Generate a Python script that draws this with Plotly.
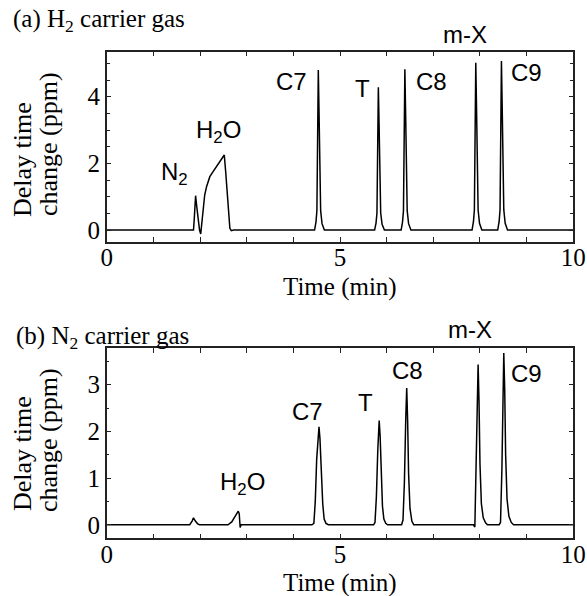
import plotly.graph_objects as go

# ---------------- data ----------------
# (a) H2 carrier gas : time (min) and delay time change (ppm)
time_a = [0.00, 1.86, 1.875, 1.905, 1.93, 1.96, 1.99, 2.015, 2.035, 2.07, 2.10, 2.14, 2.21,
          2.28, 2.36, 2.43, 2.48, 2.52, 2.55, 2.58, 2.61, 2.64, 2.67, 2.72,
          4.455, 4.485, 4.505, 4.52, 4.535, 4.55, 4.565, 4.585, 4.615, 4.665,
          5.742, 5.772, 5.792, 5.807, 5.822, 5.837, 5.852, 5.872, 5.902, 5.952,
          6.31, 6.34, 6.36, 6.375, 6.39, 6.405, 6.42, 6.44, 6.47, 6.52,
          7.83, 7.86, 7.88, 7.895, 7.91, 7.925, 7.94, 7.96, 7.99, 8.04,
          8.38, 8.41, 8.43, 8.445, 8.46, 8.475, 8.49, 8.51, 8.54, 8.59,
          10.0]
delay_a = [0.00, 0.00, 0.30, 1.03, 0.70, 0.30, 0.00, -0.12, 0.15, 0.70, 1.05, 1.30, 1.60,
           1.75, 1.92, 2.07, 2.18, 2.25, 1.75, 1.10, 0.50, 0.05, -0.02, 0.00,
           0.00, 0.24, 0.58, 2.64, 4.80, 3.60, 1.68, 0.58, 0.19, 0.00,
           0.00, 0.21, 0.51, 2.35, 4.28, 3.21, 1.50, 0.51, 0.17, 0.00,
           0.00, 0.24, 0.58, 2.65, 4.82, 3.62, 1.69, 0.58, 0.19, 0.00,
           0.00, 0.25, 0.60, 2.76, 5.02, 3.77, 1.76, 0.60, 0.20, 0.00,
           0.00, 0.25, 0.61, 2.79, 5.07, 3.80, 1.77, 0.61, 0.20, 0.00,
           0.00]

# (b) N2 carrier gas
time_b = [0.00, 1.78, 1.83, 1.86, 1.90, 1.95, 1.99,
          2.60, 2.68, 2.74, 2.79, 2.82, 2.84, 2.86, 2.88,
          4.40, 4.44, 4.47, 4.50, 4.53, 4.55, 4.57, 4.60, 4.63, 4.66, 4.70, 4.75,
          5.72, 5.75, 5.78, 5.81, 5.84, 5.86, 5.88, 5.91, 5.94, 5.98, 6.02,
          6.32, 6.35, 6.38, 6.41, 6.43, 6.45, 6.47, 6.50, 6.54, 6.58,
          7.86, 7.89, 7.91, 7.94, 7.96, 7.98, 8.00, 8.03, 8.07, 8.12, 8.16,
          8.41, 8.44, 8.47, 8.49, 8.51, 8.53, 8.55, 8.58, 8.62, 8.67, 8.72,
          10.0]
delay_b = [0.00, 0.00, 0.08, 0.15, 0.08, 0.02, 0.00,
           0.00, 0.06, 0.16, 0.24, 0.29, 0.24, -0.06, 0.00,
           0.00, 0.03, 0.50, 1.40, 2.00, 2.10, 1.85, 1.10, 0.45, 0.12, 0.03, 0.00,
           0.00, 0.05, 0.60, 1.60, 2.23, 1.90, 1.10, 0.40, 0.12, 0.03, 0.00,
           0.00, 0.10, 0.90, 2.30, 2.93, 2.20, 1.10, 0.35, 0.08, 0.00,
           0.00, -0.05, 0.80, 2.60, 3.43, 2.60, 1.30, 0.45, 0.15, 0.04, 0.00,
           0.00, 0.05, 1.20, 2.90, 3.68, 2.90, 1.50, 0.55, 0.18, 0.05, 0.00,
           0.00]

# peak labels (data coordinates)
labels_a = ["N<sub>2</sub>", "H<sub>2</sub>O", "C7", "T", "C8", "C9"]
label_x_a = [1.46, 2.39, 3.96, 5.49, 6.96, 9.00]
label_y_a = [1.71, 2.95, 4.47, 4.26, 4.45, 4.74]

labels_b = ["H<sub>2</sub>O", "C7", "T", "C8", "C9"]
label_x_b = [2.90, 4.31, 5.55, 6.45, 9.00]
label_y_b = [0.88, 2.43, 2.61, 3.30, 3.23]

# m-X labels sit above the plotting area (time, ppm)
mx_label = "m-X"
mx_a = (7.68, 5.87)
mx_b = (7.78, 4.18)

x_major = [0, 5, 10]
x_minor = [1, 2, 3, 4, 6, 7, 8, 9]
ya_major = [0, 2, 4]
ya_minor = [0.5, 1, 1.5, 2.5, 3, 3.5, 4.5, 5]
yb_major = [0, 1, 2, 3]
yb_minor = [0.5, 1.5, 2.5, 3.5]

# ---------------- figure ----------------
W, H = 587, 596
SERIF = "Liberation Serif"
SANS = "Liberation Sans"

X0, X1 = 106.7, 573.3          # plot box, pixels
YA_TOP, YA_BOT = 51.7, 241.7
YB_TOP, YB_BOT = 348.3, 538.3
YA_RANGE = [-0.35, 5.35]
YB_RANGE = [-0.29, 3.78]


def px(x):
    return x / W


def py(y):
    return 1 - y / H


def data_to_paper(t, v, top, bot, yr):
    xp = px(X0 + (X1 - X0) * t / 10.0)
    ypix = bot - (bot - top) * (v - yr[0]) / (yr[1] - yr[0])
    return xp, py(ypix)


fig = go.Figure()
fig.add_trace(go.Scatter(x=time_a, y=delay_a, mode="lines", xaxis="x", yaxis="y",
                         line=dict(color="black", width=1.5), showlegend=False))
fig.add_trace(go.Scatter(x=time_b, y=delay_b, mode="lines", xaxis="x2", yaxis="y2",
                         line=dict(color="black", width=1.5), showlegend=False))

xdom = [px(X0), px(X1)]
tickstyle = dict(ticks="inside", ticklen=5, tickwidth=1.2, tickcolor="#222",
                 showline=True, linecolor="#222", linewidth=1.5, mirror="ticks",
                 showgrid=False, zeroline=False, tickmode="array", automargin=False,
                 tickfont=dict(family=SERIF, size=25, color="black"))
common_x = dict(range=[0, 10], tickvals=x_major, domain=xdom, ticklabelstandoff=-7,
                minor=dict(tickvals=x_minor, ticks="inside", ticklen=5, tickwidth=1.2,
                           tickcolor="#222"), **tickstyle)

fig.update_layout(
    template="none",
    width=W, height=H, margin=dict(l=0, r=0, t=0, b=0, pad=0, autoexpand=False),
    paper_bgcolor="white", plot_bgcolor="white", showlegend=False,
    xaxis=dict(**common_x, anchor="y"),
    yaxis=dict(**tickstyle, range=YA_RANGE, tickvals=ya_major,
               domain=[py(YA_BOT), py(YA_TOP)], anchor="x",
               minor=dict(tickvals=ya_minor, ticks="inside", ticklen=4,
                          tickwidth=1.1, tickcolor="#222")),
    xaxis2=dict(**common_x, anchor="y2"),
    yaxis2=dict(**tickstyle, range=YB_RANGE, tickvals=yb_major,
                domain=[py(YB_BOT), py(YB_TOP)], anchor="x2",
                minor=dict(tickvals=yb_minor, ticks="inside", ticklen=3,
                           tickwidth=1.0, tickcolor="#222")),
)

ann = []
# panel titles
ann.append(dict(text="(a) H<sub>2</sub> carrier gas", x=px(11), y=py(21), xref="paper", yref="paper",
                xanchor="left", yanchor="middle", showarrow=False,
                font=dict(family=SERIF, size=25, color="black")))
ann.append(dict(text="(b) N<sub>2</sub> carrier gas", x=px(14), y=py(337), xref="paper", yref="paper",
                xanchor="left", yanchor="middle", showarrow=False,
                font=dict(family=SERIF, size=25, color="black")))
# y titles (two lines each)
for (l1y, l2y) in [(160, 144), (454, 440)]:
    ann.append(dict(text="Delay time", x=px(22), y=py(l1y), xref="paper", yref="paper",
                    xanchor="center", yanchor="middle", textangle=-90, showarrow=False,
                    font=dict(family=SERIF, size=26, color="black")))
    ann.append(dict(text="change (ppm)", x=px(48), y=py(l2y), xref="paper", yref="paper",
                    xanchor="center", yanchor="middle", textangle=-90, showarrow=False,
                    font=dict(family=SERIF, size=26, color="black")))
# x titles
for ty in [287, 583]:
    ann.append(dict(text="Time (min)", x=px(340), y=py(ty), xref="paper", yref="paper",
                    xanchor="center", yanchor="middle", showarrow=False,
                    font=dict(family=SERIF, size=25, color="black")))
# peak labels
for t, lx, ly in zip(labels_a, label_x_a, label_y_a):
    ann.append(dict(text=t, x=lx, y=ly, xref="x", yref="y", xanchor="center", yanchor="middle",
                    showarrow=False, font=dict(family=SANS, size=24, color="black")))
for t, lx, ly in zip(labels_b, label_x_b, label_y_b):
    ann.append(dict(text=t, x=lx, y=ly, xref="x2", yref="y2", xanchor="center", yanchor="middle",
                    showarrow=False, font=dict(family=SANS, size=24, color="black")))
for (mt, mv), top, bot, yr in [(mx_a, YA_TOP, YA_BOT, YA_RANGE), (mx_b, YB_TOP, YB_BOT, YB_RANGE)]:
    xp, yp = data_to_paper(mt, mv, top, bot, yr)
    ann.append(dict(text=mx_label, x=xp, y=yp, xref="paper", yref="paper", xanchor="center",
                    yanchor="middle", showarrow=False,
                    font=dict(family=SANS, size=24, color="black")))
fig.update_layout(annotations=ann)

fig.write_html("out.html", config={"displayModeBar": False},
               post_script="document.body.style.margin='0px';document.body.style.padding='0px';")
